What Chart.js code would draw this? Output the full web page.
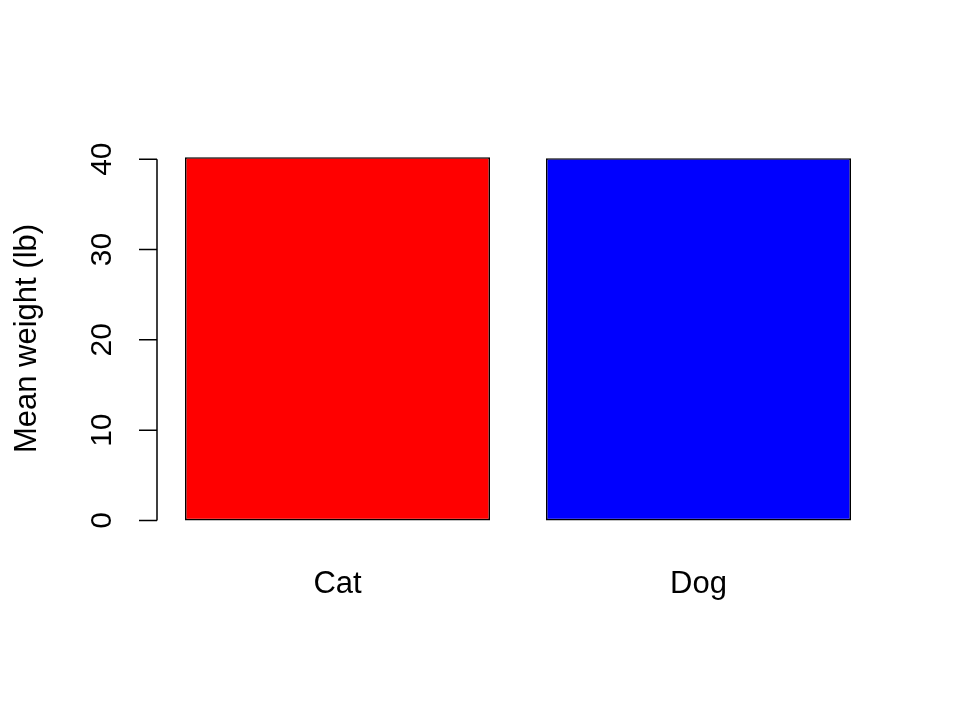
<!DOCTYPE html>
<html>
<head>
<meta charset="utf-8">
<script src="https://cdn.jsdelivr.net/npm/chart.js@4/dist/chart.umd.min.js"></script>
<style>
  html, body { margin: 0; padding: 0; background: #fff; }
  #wrap { width: 960px; height: 720px; }
</style>
</head>
<body>
<div id="wrap"><canvas id="chart"></canvas></div>
<script>
const categories = ['Cat', 'Dog'];
const meanWeights = [40.22, 40.11];
const barColors = ['#ff0000', '#0000ff'];
const yTicks = [0, 10, 20, 30, 40];
const yTitle = 'Mean weight (lb)';

const TICK_FONT = '30px "Liberation Sans", Arial, sans-serif';
const LABEL_FONT = '31px "Liberation Sans", Arial, sans-serif';

// draws the R-style axes (left axis only spans the tick range)
const baseAxes = {
    id: 'baseAxes',
    afterDraw(chart) {
        const ctx = chart.ctx;
        const x = chart.scales.x;
        const y = chart.scales.y;
        const left = chart.chartArea.left;

        ctx.save();
        ctx.strokeStyle = '#000';
        ctx.lineWidth = 1.5;
        ctx.beginPath();
        ctx.moveTo(left, y.getPixelForValue(yTicks[0]));
        ctx.lineTo(left, y.getPixelForValue(yTicks[yTicks.length - 1]));
        yTicks.forEach(t => {
            const py = y.getPixelForValue(t);
            ctx.moveTo(left - 18, py);
            ctx.lineTo(left, py);
        });
        ctx.stroke();

        ctx.fillStyle = '#000';
        ctx.font = TICK_FONT;
        ctx.textAlign = 'center';
        ctx.textBaseline = 'alphabetic';
        yTicks.forEach(t => {
            ctx.save();
            ctx.translate(111, y.getPixelForValue(t));
            ctx.rotate(-Math.PI / 2);
            ctx.fillText(String(t), 0, 0);
            ctx.restore();
        });

        ctx.font = LABEL_FONT;
        categories.forEach((c, i) => {
            ctx.fillText(c, x.getPixelForValue(i), 593);
        });

        const midY = (chart.chartArea.top + chart.chartArea.bottom) / 2;
        ctx.save();
        ctx.translate(36, midY);
        ctx.rotate(-Math.PI / 2);
        ctx.fillText(yTitle, 0, 0);
        ctx.restore();
        ctx.restore();
    }
};

new Chart(document.getElementById('chart').getContext('2d'), {
    type: 'bar',
    data: {
        labels: categories,
        datasets: [
            {
                data: meanWeights,
                backgroundColor: barColors,
                borderColor: '#000',
                borderWidth: 1.6,
                borderSkipped: false,
                barPercentage: 0.845,
                categoryPercentage: 1,
            },
        ],
    },
    options: {
        responsive: true,
        maintainAspectRatio: false,
        animation: false,
        layout: {
            padding: { left: 157, right: 81, top: 142, bottom: 185 },
        },
        plugins: {
            legend: { display: false },
            tooltip: { enabled: false },
        },
        scales: {
            x: {
                display: false,
            },
            y: {
                display: false,
                min: -1.61,
                max: 41.9,
            },
        },
    },
    plugins: [baseAxes],
});
</script>
</body>
</html>
